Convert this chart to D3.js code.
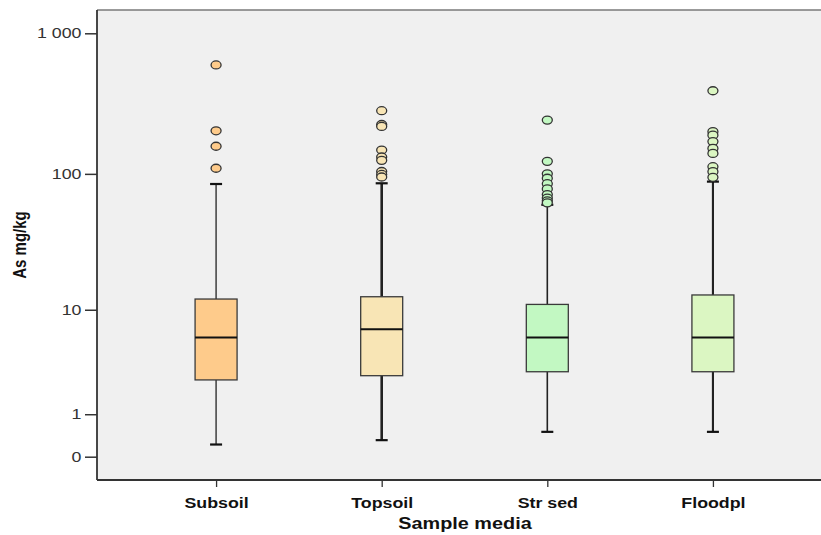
<!DOCTYPE html>
<html>
<head>
<meta charset="utf-8">
<script src="https://cdn.jsdelivr.net/npm/d3@7"></script>
<style>
  body { margin: 0; background: #fff; }
  svg { display: block; }
</style>
</head>
<body>
<svg id="chart" width="821" height="535"></svg>
<script>
// ---- data ----
const categories = ["Subsoil", "Topsoil", "Str sed", "Floodpl"];
const q1 = [2.5, 2.75, 3.0, 3.0];
const medians = [6.0, 7.0, 6.0, 6.0];
const q3 = [12.1, 12.6, 11.0, 13.0];
const whiskerLow = [0.22, 0.31, 0.5, 0.5];
const whiskerHigh = [84.6, 85.6, 60, 88];
const outliers = [
  [596, 203, 157.5, 109.7],
  [282, 225, 218, 148, 132, 125, 104, 99, 95],
  [242, 123, 100, 93, 85, 78, 71, 67, 64, 62],
  [391, 200, 189, 170, 152, 140, 112.5, 103.7, 94.5]
];
const fills = ["#FECB8B", "#F8E5B5", "#C2F8C2", "#DBF6C2"];
const whiskerWidths = [1.3, 2.6, 1.6, 2.1];
const yTicks = [0, 1, 10, 100, 1000];
const yTickLabels = ["0", "1", "10", "100", "1 000"];

// ---- layout ----
const svg = d3.select("#chart");
const plot = { left: 97, top: 10, right: 832, bottom: 480 };
const stretch = 1.27; // horizontal stretch of text in the reference

const x = d3.scalePoint().domain(categories).range([plot.left, plot.right]).padding(0.719);
const y = d3.scaleSymlog().constant(1).domain([0, 1000]).range([456.7, 33.3]);

// background
svg.append("rect")
  .attr("x", plot.left).attr("y", plot.top)
  .attr("width", plot.right - plot.left).attr("height", plot.bottom - plot.top)
  .attr("fill", "#F0F0F0");

// frame top
svg.append("line")
  .attr("x1", plot.left).attr("x2", plot.right)
  .attr("y1", plot.top).attr("y2", plot.top)
  .attr("stroke", "#7a7a7a").attr("stroke-width", 1.5);

// y axis
const yAxis = d3.axisLeft(y).tickValues(yTicks)
  .tickFormat((d, i) => yTickLabels[i]).tickSize(12).tickSizeOuter(0);
const gy = svg.append("g").attr("transform", `translate(${plot.left},0)`).call(yAxis);
gy.select(".domain").remove();
gy.selectAll(".tick line").attr("stroke", "#333").attr("stroke-width", 1.5);
gy.selectAll(".tick text")
  .attr("x", 0)
  .attr("transform", `translate(-15.5,0) scale(${stretch},1)`)
  .attr("fill", "#333")
  .style("font-family", "'Liberation Sans', Arial, sans-serif")
  .style("font-size", "14px");
svg.append("line")
  .attr("x1", plot.left).attr("x2", plot.left)
  .attr("y1", plot.top).attr("y2", plot.bottom)
  .attr("stroke", "#333").attr("stroke-width", 1.8);

// x axis
const xAxis = d3.axisBottom(x).tickSize(7).tickSizeOuter(0);
const gx = svg.append("g").attr("transform", `translate(0,${plot.bottom})`).call(xAxis);
gx.select(".domain").remove();
gx.selectAll(".tick line").attr("stroke", "#333").attr("stroke-width", 1.3);
gx.selectAll(".tick text")
  .attr("y", 18)
  .attr("transform", `scale(${stretch},1)`)
  .attr("fill", "#111")
  .style("font-family", "'Liberation Sans', Arial, sans-serif")
  .style("font-weight", "bold")
  .style("font-size", "14px");
svg.append("line")
  .attr("x1", plot.left).attr("x2", plot.right)
  .attr("y1", plot.bottom).attr("y2", plot.bottom)
  .attr("stroke", "#333").attr("stroke-width", 1.8);

// axis titles
svg.append("text")
  .attr("transform", `translate(465,529) scale(1.24,1)`)
  .attr("text-anchor", "middle")
  .attr("fill", "#111")
  .style("font-family", "'Liberation Sans', Arial, sans-serif")
  .style("font-weight", "bold")
  .style("font-size", "16px")
  .text("Sample media");

svg.append("text")
  .attr("transform", "translate(26,245) rotate(-90) scale(1,1.2)")
  .attr("text-anchor", "middle")
  .attr("fill", "#111")
  .style("font-family", "'Liberation Sans Narrow', 'Liberation Sans', Arial, sans-serif")
  .style("font-weight", "bold")
  .style("font-size", "15px")
  .text("As mg/kg");

// boxes
const boxW = 42, capW = 12;
categories.forEach((c, i) => {
  const cx = x(c);
  const g = svg.append("g");
  // whiskers
  g.append("line").attr("x1", cx).attr("x2", cx)
    .attr("y1", y(q3[i])).attr("y2", y(whiskerHigh[i]))
    .attr("stroke", "#222").attr("stroke-width", whiskerWidths[i]);
  g.append("line").attr("x1", cx).attr("x2", cx)
    .attr("y1", y(q1[i])).attr("y2", y(whiskerLow[i]))
    .attr("stroke", "#222").attr("stroke-width", whiskerWidths[i]);
  [whiskerHigh[i], whiskerLow[i]].forEach(v => {
    g.append("line").attr("x1", cx - capW / 2).attr("x2", cx + capW / 2)
      .attr("y1", y(v)).attr("y2", y(v))
      .attr("stroke", "#111").attr("stroke-width", 2.2);
  });
  // box
  g.append("rect")
    .attr("x", cx - boxW / 2).attr("width", boxW)
    .attr("y", y(q3[i])).attr("height", y(q1[i]) - y(q3[i]))
    .attr("fill", fills[i]).attr("stroke", "#3a3a3a").attr("stroke-width", 1.3);
  g.append("line")
    .attr("x1", cx - boxW / 2).attr("x2", cx + boxW / 2)
    .attr("y1", y(medians[i])).attr("y2", y(medians[i]))
    .attr("stroke", "#111").attr("stroke-width", 2);
  // outliers
  g.selectAll("ellipse").data(outliers[i]).enter().append("ellipse")
    .attr("cx", cx).attr("cy", d => y(d))
    .attr("rx", 5).attr("ry", 4)
    .attr("fill", fills[i]).attr("stroke", "#333").attr("stroke-width", 1.3);
});
</script>
</body>
</html>
